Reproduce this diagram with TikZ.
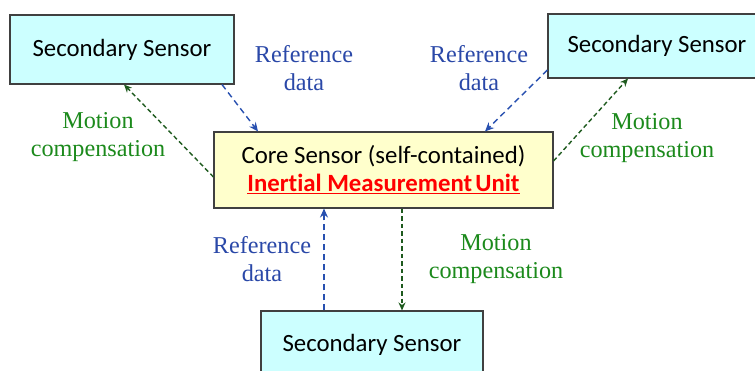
\documentclass[tikz,border=0pt]{standalone}
\usepackage{fontspec}
\setmainfont{Liberation Serif}
\newfontfamily\boxfont[Ligatures={NoCommon,NoRare}]{Carlito}
\usetikzlibrary{arrows.meta}
\definecolor{cyanbox}{HTML}{CCFFFF}
\definecolor{yellowbox}{HTML}{FFFFCC}
\definecolor{boxline}{HTML}{404040}
\definecolor{refblue}{HTML}{2850B0}
\definecolor{reftext}{HTML}{2A48A8}
\definecolor{motline}{HTML}{1E5A1E}
\definecolor{mottext}{HTML}{1C8A1C}
\tikzset{
  sensorbox/.style={draw=boxline, line width=1.1pt, fill=cyanbox, inner sep=0pt,
    font=\boxfont\fontsize{24.8}{28}\selectfont},
  corebox/.style={draw=boxline, line width=1.1pt, fill=yellowbox, inner sep=0pt,
    align=center, font=\boxfont\fontsize{24.8}{28}\selectfont},
  refarrow/.style={draw=refblue, line width=1.4pt, dash pattern=on 6pt off 4pt,
    -{Stealth[length=9pt,width=8pt]}},
  motarrow/.style={draw=motline, line width=1.4pt, dash pattern=on 4.5pt off 3pt,
    -{Stealth[length=8pt,width=7pt]}},
  reflabel/.style={text=reftext, align=center, font=\fontsize{24.2}{28}\selectfont},
  motlabel/.style={text=mottext, align=center, font=\fontsize{24.2}{28}\selectfont},
}
\begin{document}
\begin{tikzpicture}[x=1pt,y=-1pt]
\useasboundingbox (0,0) rectangle (755,371);
\clip (0,0) rectangle (755,371);
\fill[white] (0,0) rectangle (755,371);

\node[sensorbox, minimum width=224pt, minimum height=69pt] (tl) at (122,49.5) {Secondary Sensor};
\node[sensorbox, minimum width=218pt, minimum height=64pt] (tr) at (657,46) {Secondary Sensor};
\node[sensorbox, minimum width=222pt, minimum height=68pt] (bot) at (372,345) {Secondary Sensor};
\node[corebox, minimum width=339pt, minimum height=76pt] (core) at (383.5,170)
  {Core Sensor (self-contained)\\[0pt]{\color{red}\bfseries\underline{Inertial Measurement\hspace{-0.1em} Unit}}};

% top-left
\draw[refarrow] ([xshift=100pt]tl.south) -- ([xshift=-125.5pt]core.north);
\draw[motarrow] ([yshift=-7pt]core.west) -- ([xshift=2pt]tl.south);
% top-right
\draw[refarrow] ([yshift=-24pt]tr.west) -- ([xshift=101.5pt]core.north);
\draw[motarrow] ([yshift=9pt]core.east) -- ([xshift=-29pt]tr.south);
% bottom
\draw[refarrow] ([xshift=-48pt]bot.north) -- ([xshift=-59.5pt]core.south);
\draw[motarrow] ([xshift=18.5pt]core.south) -- ([xshift=30pt]bot.north);

\node[reflabel] (rl1) at (304,68) {Reference\\data};
\node[motlabel] (ml1) at (98,137) {Motion\\compensation};
\node[reflabel] (rl2) at (479,68) {Reference\\data};
\node[motlabel] (ml2) at (647,138) {Motion\\compensation};
\node[reflabel] (rl3) at (262,259) {Reference\\data};
\node[motlabel] (ml3) at (496,259) {Motion\\compensation};
\end{tikzpicture}
\end{document}
